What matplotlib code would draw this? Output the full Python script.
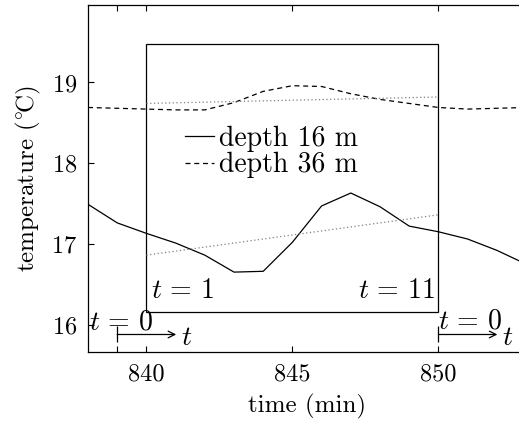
import matplotlib
matplotlib.use("Agg")
import matplotlib.pyplot as plt
from matplotlib.patches import Rectangle

plt.rcParams['font.family'] = 'serif'
plt.rcParams['font.serif'] = ['cmr10']
plt.rcParams['mathtext.fontset'] = 'cm'
plt.rcParams['axes.formatter.use_mathtext'] = True

# data
minutes = [838, 839, 840, 841, 842, 843, 844, 845, 846, 847, 848, 849, 850, 851, 852, 853]
temp_16m = [17.49, 17.26, 17.13, 17.01, 16.86, 16.65, 16.66, 17.02, 17.47, 17.63,
            17.46, 17.22, 17.15, 17.06, 16.92, 16.75]
temp_36m = [18.69, 18.68, 18.67, 18.66, 18.66, 18.75, 18.89, 18.96, 18.95, 18.86,
            18.79, 18.74, 18.69, 18.67, 18.68, 18.69]
# linear trends inside the window
trend_t = [840, 850]
trend_16m = [16.86, 17.36]
trend_36m = [18.74, 18.82]

win_x = [840, 850]
win_y = [16.16, 19.48]

xticks = [839, 840, 845, 850]
xtick_labels = ['', '840', '845', '850']
yticks = [16, 17, 18, 19]

fs = 17.5     # ticks
fs_lab = 18   # axis labels
fs_txt = 20   # legend + annotations

fig = plt.figure(figsize=(5.19, 4.26), dpi=100)
ax = fig.add_axes([0.1696, 0.1737, 0.8439, 0.8146])

ax.plot(minutes, temp_16m, color='black', lw=0.9, label='depth 16 m')
ax.plot(minutes, temp_36m, color='black', lw=0.9, dashes=(4, 3), label='depth 36 m')
ax.plot(trend_t, trend_16m, color='gray', lw=0.9, linestyle=(0, (1, 2)))
ax.plot(trend_t, trend_36m, color='gray', lw=0.9, linestyle=(0, (1, 2)))

ax.add_patch(Rectangle((win_x[0], win_y[0]), win_x[1] - win_x[0], win_y[1] - win_y[0],
                       fill=False, edgecolor='black', lw=0.9))

ax.text(840.15, 16.26, r'$t\,=\,1$', fontsize=fs_txt, ha='left', va='bottom')
ax.text(849.9, 16.26, r'$t\,=\,11$', fontsize=fs_txt, ha='right', va='bottom')
ax.text(838.05, 16.03, r'$t\,=\,0$', fontsize=fs_txt, ha='left', va='center')
ax.text(850.0, 16.04, r'$t\,=\,0$', fontsize=fs_txt, ha='left', va='center')

# time arrows starting at t=0
for x0, x1, y in [(839, 841.02, 15.877), (850, 852.02, 15.877)]:
    ax.annotate('', xy=(x1, y), xytext=(x0, y),
                arrowprops=dict(arrowstyle='->', color='black', lw=0.9,
                                shrinkA=0, shrinkB=0, mutation_scale=12))
    ax.plot([x0], [y], marker='|', color='black', ms=11.5, mew=0.9)
    ax.text(x1 + 0.15, y - 0.04, r'$t$', fontsize=fs_txt, ha='left', va='center')

ax.legend(loc='upper left', bbox_to_anchor=(0.222, 0.652), frameon=False,
          fontsize=fs_txt, handlelength=1.05, handletextpad=0.18, labelspacing=0.0,
          borderpad=0, borderaxespad=0)

ax.set_xlim(838, 853)
ax.set_ylim(15.66, 19.96)
ax.set_xticks(xticks)
ax.set_xticklabels(xtick_labels)
ax.set_yticks(yticks)
ax.tick_params(direction='in', length=4, width=0.8, labelsize=fs,
               top=True, right=True, pad=8)
for sp in ax.spines.values():
    sp.set_linewidth(0.9)

ax.set_xlabel('time (min)', fontsize=fs_lab, labelpad=6)
ax.set_ylabel(r'temperature (${}^{\circ}\!$C)', fontsize=fs_lab, labelpad=6)

fig.savefig('out.png', dpi=100)
